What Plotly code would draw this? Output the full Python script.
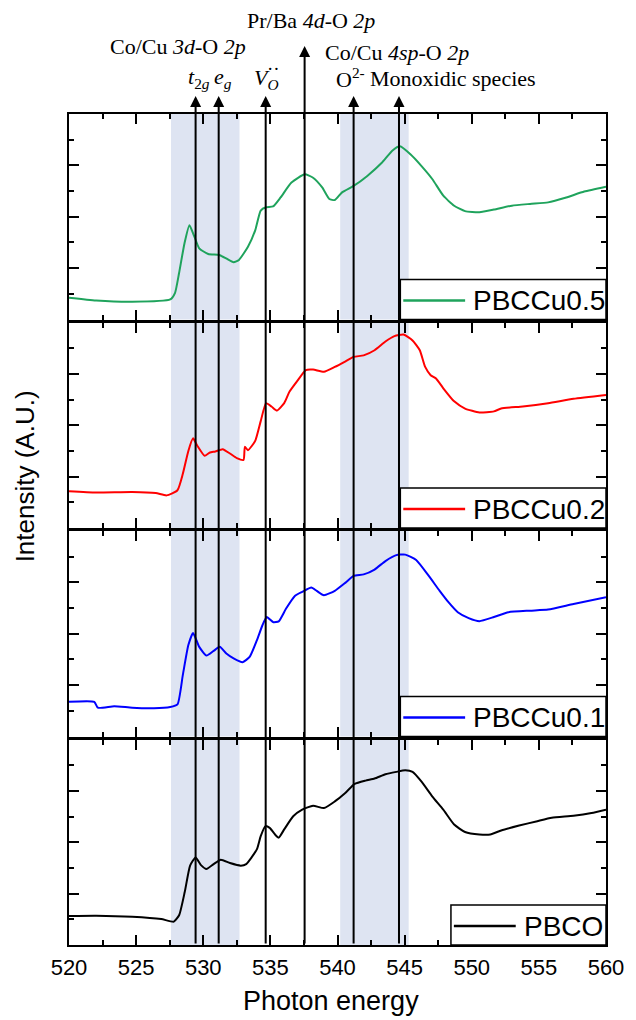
import plotly.graph_objects as go

# ---------------- data ----------------
series_names = ["PBCCu0.5", "PBCCu0.2", "PBCCu0.1", "PBCO"]
series_colors = ["#1fa35c", "#ff0000", "#0000ff", "#000000"]

energy_cu05 = [520.0, 522.02, 524.71, 527.54, 527.9, 528.2, 528.6, 528.97, 529.3, 529.7, 530.37, 531.18,
               531.7, 532.26, 532.66, 533.33, 533.87, 534.28, 534.68, 535.2, 535.76, 536.57, 537.56,
               538.18, 538.86, 539.39, 539.8, 540.34, 541.2, 542.22, 543.3, 544.1, 544.65, 545.45,
               546.26, 547.07, 547.88, 548.69, 549.5, 550.57, 551.65, 552.99, 554.34, 555.69, 557.04,
               558.38, 560.0]
intensity_cu05 = [0.85, 0.74, 0.69, 0.78, 1.04, 1.81, 2.96, 3.67, 3.28, 2.77, 2.55, 2.51, 2.38, 2.23,
                  2.32, 2.83, 3.47, 4.24, 4.37, 4.40, 4.75, 5.33, 5.65, 5.52, 5.14, 4.69, 4.65, 4.95,
                  5.20, 5.59, 6.10, 6.58, 6.74, 6.42, 5.97, 5.46, 4.82, 4.43, 4.22, 4.18, 4.28, 4.43,
                  4.50, 4.56, 4.75, 4.98, 5.17]

energy_cu02 = [520.0, 522.02, 524.71, 526.46, 527.27, 528.08, 528.48, 528.89, 529.24, 529.56, 530.1,
               530.5, 530.9, 531.45, 531.99, 532.5, 533.0, 533.1, 533.33, 533.87, 534.28, 534.68,
               535.08, 535.49, 536.03, 536.43, 536.97, 537.64, 538.18, 538.99, 539.8, 540.6, 541.2,
               541.95, 542.76, 543.57, 544.24, 544.92, 545.59, 546.13, 546.53, 546.94, 547.34,
               547.88, 548.69, 549.5, 550.57, 551.65, 552.19, 553.8, 555.69, 557.58, 560.0]
intensity_cu02 = [1.43, 1.38, 1.40, 1.36, 1.27, 1.47, 2.11, 3.00, 3.49, 3.20, 2.81, 2.94, 2.98, 3.07,
                  2.90, 2.72, 2.65, 3.16, 3.03, 3.39, 4.16, 4.86, 4.73, 4.57, 4.86, 5.31, 5.70, 6.15,
                  6.17, 6.08, 6.27, 6.49, 6.66, 6.72, 6.92, 7.26, 7.47, 7.53, 7.30, 6.92, 6.27, 5.95,
                  5.82, 5.44, 4.93, 4.65, 4.50, 4.54, 4.65, 4.73, 4.86, 5.03, 5.18]

energy_cu01 = [520.0, 521.88, 522.15, 523.37, 524.71, 526.33, 527.54, 528.08, 528.48, 528.89, 529.24,
               529.7, 530.24, 530.77, 531.23, 531.72, 532.26, 532.93, 533.47, 534.0, 534.41, 534.73,
               535.22, 535.62, 536.16, 536.84, 537.37, 538.05, 538.45, 538.99, 539.8, 540.6, 541.2,
               541.95, 542.76, 543.57, 544.38, 545.05, 545.86, 546.8, 547.61, 548.28, 548.96,
               549.77, 550.57, 551.65, 552.73, 554.34, 555.69, 557.58, 560.0]
intensity_cu01 = [1.35, 1.35, 1.12, 1.18, 1.12, 1.10, 1.15, 1.25, 2.40, 3.56, 4.03, 3.49, 3.15, 3.33,
                  3.49, 3.23, 3.04, 2.89, 3.11, 3.75, 4.33, 4.65, 4.45, 4.48, 4.97, 5.48, 5.63, 5.80,
                  5.67, 5.50, 5.67, 5.99, 6.25, 6.31, 6.50, 6.83, 7.06, 7.08, 6.87, 6.25, 5.67, 5.22,
                  4.84, 4.61, 4.49, 4.65, 4.84, 4.90, 4.94, 5.16, 5.42]

energy_pbco = [520.0, 522.02, 524.71, 526.87, 527.81, 528.21, 528.62, 529.02, 529.43, 529.83, 530.24,
               530.77, 531.31, 531.99, 532.8, 533.2, 533.6, 534.0, 534.28, 534.63, 534.95, 535.35,
               535.62, 536.03, 536.7, 537.37, 538.18, 538.99, 539.8, 540.6, 541.28, 542.09, 542.76,
               543.57, 544.38, 545.05, 545.59, 546.26, 547.07, 547.88, 548.69, 549.5, 550.57,
               551.38, 552.19, 553.53, 554.88, 555.96, 557.58, 558.92, 560.0]
intensity_pbco = [1.13, 1.14, 1.10, 1.01, 0.91, 1.17, 2.06, 3.09, 3.41, 3.11, 2.96, 3.15, 3.32, 3.19,
                  3.09, 3.15, 3.41, 3.73, 4.24, 4.63, 4.56, 4.30, 4.18, 4.50, 5.01, 5.27, 5.42, 5.33,
                  5.59, 5.93, 6.27, 6.40, 6.48, 6.65, 6.74, 6.80, 6.74, 6.36, 5.78, 5.27, 4.69, 4.40,
                  4.30, 4.30, 4.46, 4.65, 4.82, 4.95, 5.03, 5.14, 5.27]

energies = [energy_cu05, energy_cu02, energy_cu01, energy_pbco]
intensities = [intensity_cu05, intensity_cu02, intensity_cu01, intensity_pbco]

# shaded bands (photon energy)
band_ranges = [(527.6, 532.7), (540.2, 545.3)]

# feature markers (photon energy) and whether the arrow is the tall one
feature_energies = [529.43, 531.15, 534.65, 537.55, 541.2, 544.58]
feature_tall = [False, False, False, True, False, False]

x_tick_values = [520, 525, 530, 535, 540, 545, 550, 555, 560]
x_tick_labels = ["520", "525", "530", "535", "540", "545", "550", "555", "560"]

# ---------------- layout geometry ----------------
W, H = 636, 1020
L, R, T, B = 69.0, 616.0, 114.0, 945.0
GAP = 3.0
PH = (B - T - 3 * GAP) / 4.0
XMIN, XMAX = 520.0, 560.0


def ex(e):
    """photon energy -> paper x"""
    return (e - XMIN) / (XMAX - XMIN)


def px_y(p):
    return (B - p) / (B - T)


SANS = "Arial, Liberation Sans, sans-serif"
SERIF = "Times New Roman, Liberation Serif, serif"

fig = go.Figure()

layout = dict(
    width=W, height=H,
    margin=dict(l=L, r=W - R, t=T, b=H - B, pad=0),
    paper_bgcolor="white",
    plot_bgcolor="rgba(0,0,0,0)",
    showlegend=False,
    font=dict(family=SANS, color="black"),
)

shapes = []
annotations = []

for i in range(4):
    top_px = T + i * (PH + GAP)
    bot_px = top_px + PH
    dom = [px_y(bot_px), px_y(top_px)]
    xa = "xaxis" if i == 0 else f"xaxis{i + 1}"
    ya = "yaxis" if i == 0 else f"yaxis{i + 1}"
    xid = "x" if i == 0 else f"x{i + 1}"
    yid = "y" if i == 0 else f"y{i + 1}"
    layout[xa] = dict(
        domain=[0, 1], anchor=yid, range=[XMIN, XMAX],
        showline=True, linewidth=2, linecolor="black", mirror="ticks",
        ticks="inside", tickvals=x_tick_values, ticktext=x_tick_labels,
        ticklen=10, tickwidth=2, tickcolor="black",
        minor=dict(dtick=2.5, tick0=520, ticks="inside", ticklen=5, tickwidth=2, tickcolor="black"),
        showgrid=False, zeroline=False,
        showticklabels=(i == 3),
        tickfont=dict(family=SANS, size=22, color="black"),
        ticklabelstandoff=2,
        ticklabeloverflow="allow",
    )
    if i > 0:
        layout[xa]["matches"] = "x"
    layout[ya] = dict(
        domain=dom, anchor=xid, range=[0, 8],
        showline=True, linewidth=2, linecolor="black", mirror="ticks",
        ticks="inside", dtick=2, tick0=0, ticklen=10, tickwidth=2, tickcolor="black",
        minor=dict(dtick=1, tick0=0, ticks="inside", ticklen=5, tickwidth=2, tickcolor="black"),
        showgrid=False, zeroline=False, showticklabels=False,
    )

    fig.add_trace(go.Scatter(
        x=energies[i], y=intensities[i], mode="lines", name=series_names[i],
        line=dict(color=series_colors[i], width=2, shape="spline", smoothing=0.5),
        xaxis=xid, yaxis=yid,
    ))

    # shaded bands
    for (b0, b1) in band_ranges:
        shapes.append(dict(type="rect", xref=xid, yref=f"{yid} domain", x0=b0, x1=b1, y0=0, y1=1,
                           fillcolor="rgb(222,228,242)", line=dict(width=0), layer="below"))

    # legend box
    box_left = ex(544.68 if i < 3 else 548.45)
    box_top = bot_px - 40
    shapes.append(dict(type="rect", xref="paper", yref="paper",
                       x0=box_left, x1=1.0, y0=px_y(bot_px), y1=px_y(box_top),
                       fillcolor="white", line=dict(color="black", width=1.5), layer="above"))
    mid = (bot_px + box_top) / 2 + 1
    pw = R - L
    shapes.append(dict(type="line", xref="paper", yref="paper",
                       x0=box_left + 3 / pw, x1=box_left + 66 / pw, y0=px_y(mid), y1=px_y(mid),
                       line=dict(color=series_colors[i], width=2.5), layer="above"))
    annotations.append(dict(xref="paper", yref="paper", x=box_left + 72 / pw, y=px_y(mid),
                            xanchor="left", yanchor="middle", showarrow=False,
                            text=series_names[i], font=dict(family=SANS, size=28, color="black")))

# feature arrows (vertical lines ending in arrowheads above the plot)
for e, tall in zip(feature_energies, feature_tall):
    tip = 46.0 if tall else 96.0
    annotations.append(dict(xref="x4", yref="paper", x=e, y=px_y(tip), text="",
                            showarrow=True, axref="pixel", ayref="pixel", ax=0, ay=B - tip,
                            arrowhead=2, arrowsize=1.1, arrowwidth=2, arrowcolor="black",
                            standoff=0, startstandoff=0))

# label texts above the plot (x given in photon-energy units, y in pixels)
labels = [
    ("Co/Cu <i>3d</i>-O <i>2p</i>", 528.1, 46),
    ("Pr/Ba <i>4d</i>-O <i>2p</i>", 538.0, 20),
    ("Co/Cu <i>4sp</i>-O <i>2p</i>", 544.4, 53),
    ("<i>t</i><sub>2<i>g</i></sub>", 529.7, 78),
    ("<i>e</i><sub><i>g</i></sub>", 531.45, 78),
    ("<i>V</i><sub><i>O</i></sub>", 534.7, 79),
    ("O<sup>2-</sup>", 540.95, 78),
    ("Monoxidic species", 548.6, 78),
]
for txt, xe, yp in labels:
    annotations.append(dict(xref="paper", yref="paper", x=ex(xe), y=px_y(yp), text=txt,
                            xanchor="center", yanchor="middle", showarrow=False,
                            font=dict(family=SERIF, size=22, color="black")))
# Kröger-Vink double dot
annotations.append(dict(xref="paper", yref="paper", x=ex(535.25), y=px_y(68), text="··",
                        xanchor="center", yanchor="middle", showarrow=False,
                        font=dict(family=SERIF, size=19, color="black")))

# axis titles
annotations.append(dict(xref="paper", yref="paper", x=ex(539.5), y=px_y(1001), text="Photon energy",
                        xanchor="center", yanchor="middle", showarrow=False,
                        font=dict(family=SANS, size=27, color="black")))
annotations.append(dict(xref="paper", yref="paper", x=ex(516.75), y=px_y(476), text="Intensity (A.U.)",
                        xanchor="center", yanchor="middle", showarrow=False, textangle=-90,
                        font=dict(family=SANS, size=26, color="black")))

layout["shapes"] = shapes
layout["annotations"] = annotations
fig.update_layout(**layout)

fig.write_html(
    "out.html",
    config={"displayModeBar": False},
    post_script="document.body.style.margin='0';document.body.style.padding='0';"
                "document.body.style.overflow='hidden';",
)
